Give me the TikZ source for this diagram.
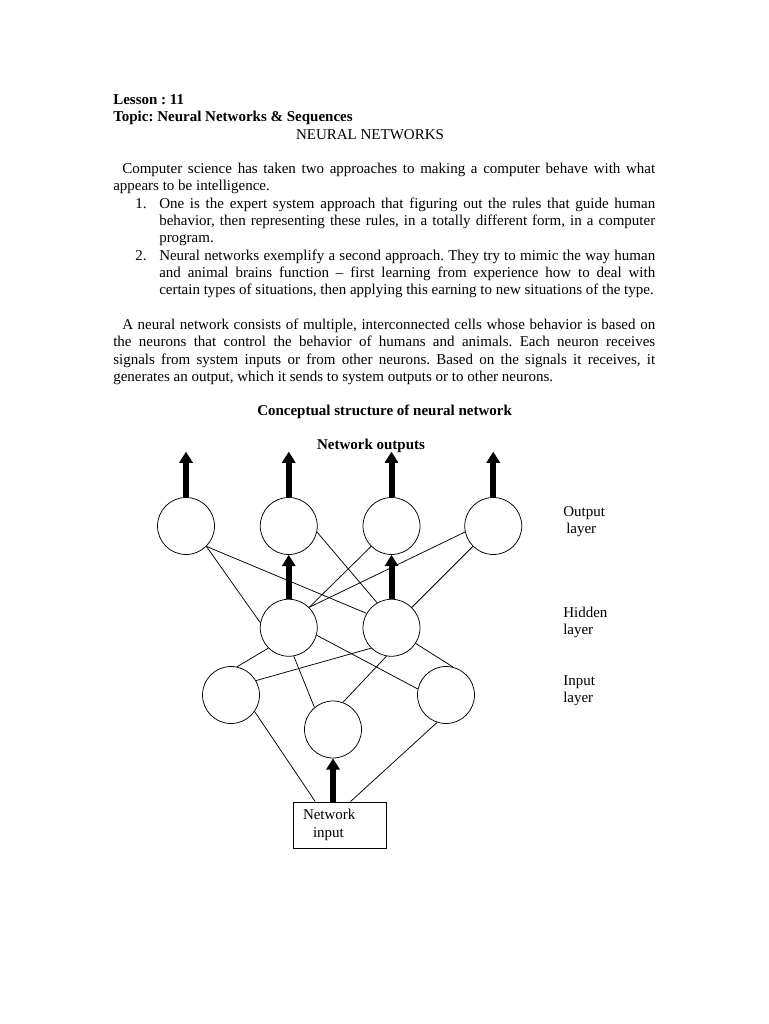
\documentclass[tikz,border=0pt]{standalone}
\usepackage{fontspec}
\setmainfont{Liberation Serif}
\usetikzlibrary{arrows.meta,positioning,calc}
\newcommand{\jline}[2]{\makebox[#1][s]{#2}}
\frenchspacing

\begin{document}
\begin{tikzpicture}[
  x=0.8pt, y=-0.8pt,
  txt/.style={anchor=base west, inner sep=0pt,
    font=\fontsize{12pt}{13.84pt}\selectfont},
  txtb/.style={txt, font=\fontsize{12pt}{13.84pt}\selectfont\bfseries},
  neuron/.style={circle, draw, line width=0.6pt,
    minimum size=45.6pt, inner sep=0pt},
  link/.style={line width=0.6pt},
  fat/.style={line width=4.8pt, -{Triangle[width=10.5pt,length=9pt]}}
]
  \fill[white] (0,0) rectangle (768,1024);
  \useasboundingbox (0,0) rectangle (768,1024);

  % page text
  \node[txtb] (lesson) at (113,104.5) {Lesson : 11};
  \node[txtb] (topic) at (113,121.8) {Topic: Neural Networks \& Sequences};
  \node[txt, anchor=base] (head) at (370,139.1) {NEURAL NETWORKS};

  \node[txt] (p1a) at (122,173.7) {\jline{426.4pt}{Computer science has taken two
    approaches to making a computer behave with what}};
  \node[txt] (p1b) at (113,191) {appears to be intelligence.};

  \node[txt] (n1) at (135,208.3) {1.};
  \node[txt] (i1a) at (159,208.3) {\jline{396.8pt}{One is the expert system
    approach that figuring out the rules that guide human}};
  \node[txt] (i1b) at (159,225.6) {\jline{396.8pt}{behavior, then representing
    these rules, in a totally different form, in a computer}};
  \node[txt] (i1c) at (159,242.9) {program.};
  \node[txt] (n2) at (135,260.2) {2.};
  \node[txt] (i2a) at (159,260.2) {\jline{396.8pt}{Neural networks exemplify a
    second approach. They try to mimic the way human}};
  \node[txt] (i2b) at (159,277.5) {\jline{396.8pt}{and animal brains function --
    first learning from experience how to deal with}};
  \node[txt] (i2c) at (159,294.8) {certain types of situations, then applying
    this earning to new situations of the type.};

  \node[txt] (p2a) at (122,329.4) {\jline{426.4pt}{A neural network consists of
    multiple, interconnected cells whose behavior is based on}};
  \node[txt] (p2b) at (113,346.7) {\jline{433.6pt}{the neurons that control the
    behavior of humans and animals. Each neuron receives}};
  \node[txt] (p2c) at (113,364) {\jline{433.6pt}{signals from system inputs or
    from other neurons. Based on the signals it receives, it}};
  \node[txt] (p2d) at (113,381.3) {generates an output, which it sends to system
    outputs or to other neurons.};

  \node[txtb, anchor=base] (title) at (384.6,415.9)
    {Conceptual structure of neural network};
  \node[txtb, anchor=base] (outs) at (371,449) {Network outputs};

  % output layer
  \node[neuron] (O1) at (186,526) {};
  \node[neuron, right=36pt of O1] (O2) {};
  \node[neuron, right=36pt of O2] (O3) {};
  \node[neuron, right=35.2pt of O3] (O4) {};

  % hidden layer
  \node[neuron, below=35.2pt of O2] (H1) {};
  \node[neuron, right=36pt of H1] (H2) {};

  % input layer
  \node[neuron] (I1) at (231,695) {};
  \node[neuron] (I2) at (333,729.5) {};
  \node[neuron] (I3) at (446,695) {};

  \node[draw, line width=0.6pt, minimum width=74.4pt, minimum height=36.8pt,
    inner xsep=8pt, text width=58.4pt, align=left,
    font=\fontsize{12pt}{13.84pt}\selectfont] (net) at (339.5,825)
    {Network\\\hspace*{8pt}input};

  % layer names
  \node[txt] (ol1) at (563,516) {Output};
  \node[txt] (ol2) at (566,533.3) {layer};
  \node[txt] (hl1) at (563,617.5) {Hidden};
  \node[txt] (hl2) at (563,634.8) {layer};
  \node[txt] (il1) at (563,685) {Input};
  \node[txt] (il2) at (563,702.3) {layer};

  % outputs
  \foreach \n in {1,...,4}
    \coordinate[above=36.4pt of O\n] (t\n);
  \foreach \n in {1,...,4}
    \draw[fat] (O\n) -- (t\n);
  \draw[fat] (H1) -- (O2);
  \draw[fat] (H2) -- (O3);
  \draw[fat] (net.north -| I2) -- (I2);

  % connections
  \draw[link] (O1.-45) -- (H1.170);
  \draw[link] (O1.-45) -- (H2.150);
  \draw[link] (O2.-12) -- (H2.120);
  \draw[link] (O3.-135) -- (H1.45);
  \draw[link] (O4.192) -- (H1.45);
  \draw[link] (O4.-135) -- (H2.45);

  \draw[link] (H1.-135) -- (I1.78);
  \draw[link] (H2.-135) -- (I1.30);
  \draw[link] (H1.-15) -- (I3.168);
  \draw[link] (H1.-80) -- (I2.130);
  \draw[link] (H2.-100) -- (I2.70);
  \draw[link] (H2.-33) -- (I3.76);

  \draw[link] (I1.-35) -- (net.136);
  \draw[link] (I3.-108) -- (net.65);
\end{tikzpicture}
\end{document}
